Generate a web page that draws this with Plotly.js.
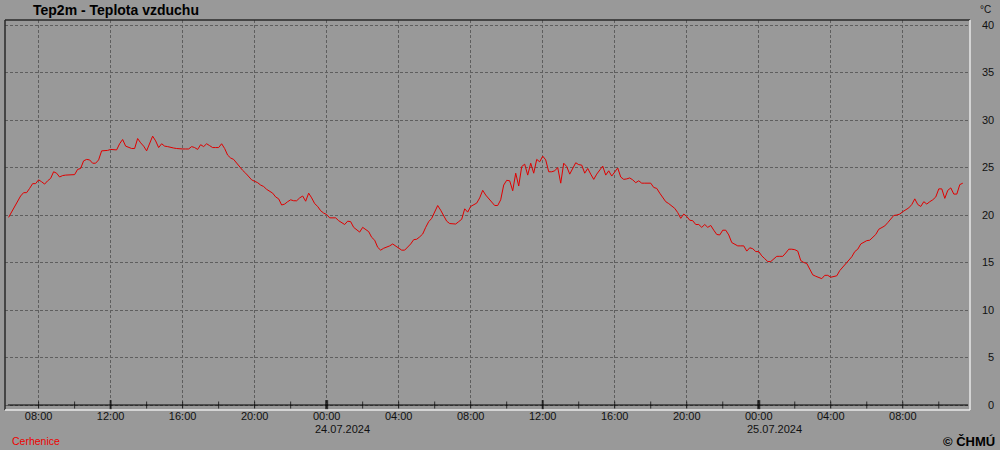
<!DOCTYPE html>
<html>
<head>
<meta charset="utf-8">
<script src="https://cdn.plot.ly/plotly-3.0.1.min.js"></script>
<style>
html,body{margin:0;padding:0;background:#999999;}
#chart{width:1000px;height:450px;}
</style>
</head>
<body>
<div id="chart"></div>
<script>
// ---- data (10-minute air temperature, Cerhenice) ----
const startTime = '2024-07-23T06:20:00Z';
const stepMinutes = 10;
const temperature = [
  19.75,20.3,20.8,21.4,22.0,22.35,22.35,22.8,23.3,23.3,23.7,23.5,
  23.25,23.6,23.85,24.55,24.4,24.0,24.15,24.2,24.2,24.25,24.25,24.8,
  24.9,25.7,25.85,25.8,25.45,25.45,25.8,26.75,26.75,26.8,26.9,26.85,
  26.85,27.5,27.95,27.25,27.1,27.0,27.0,28.05,27.6,27.25,26.75,27.6,
  28.3,27.8,27.1,27.5,27.25,27.2,27.1,27.05,27.0,26.95,26.95,26.95,
  26.95,27.2,27.1,26.9,27.4,27.2,27.5,27.3,27.1,27.1,27.1,27.5,
  27.0,26.3,26.0,25.85,25.45,25.1,24.7,24.4,24.0,23.7,23.55,23.4,
  23.15,23.0,22.7,22.45,22.3,21.9,21.7,21.05,21.15,21.4,21.6,21.5,
  21.5,21.8,22.0,21.45,22.3,21.8,21.2,20.9,20.45,20.2,20.05,19.7,
  19.7,19.7,19.4,19.2,19.0,19.35,19.3,18.7,18.4,18.2,18.7,18.5,
  18.25,17.65,17.35,16.6,16.3,16.5,16.6,16.75,16.95,16.75,16.5,16.3,
  16.3,16.6,16.95,17.4,17.45,17.7,18.0,18.7,19.3,19.65,20.3,21.0,
  20.5,19.9,19.35,19.1,19.05,19.05,19.3,19.55,20.65,20.3,20.9,21.1,
  21.25,21.8,22.6,22.1,21.75,21.4,21.0,21.0,21.6,23.15,23.65,23.6,
  22.55,24.4,23.05,25.1,25.35,24.2,25.45,24.4,25.85,25.6,26.2,25.8,
  24.55,24.55,24.65,25.0,23.35,25.45,25.1,24.3,24.9,25.5,25.3,25.25,
  24.4,24.9,24.3,23.75,24.3,24.7,25.15,24.2,24.65,24.1,24.5,24.95,
  24.0,23.75,23.8,23.9,23.7,23.4,23.6,23.35,23.35,23.35,23.35,22.9,
  22.8,22.3,21.85,21.4,21.2,20.95,20.7,20.25,19.65,20.1,19.85,19.45,
  19.4,19.0,19.0,18.7,19.0,18.7,18.9,18.4,17.95,17.9,18.4,18.4,
  17.9,17.1,16.9,16.75,16.75,16.75,16.2,16.55,16.45,16.15,16.15,15.7,
  15.4,15.1,15.1,15.35,15.65,15.65,15.65,16.0,16.4,16.4,16.35,16.2,
  15.2,15.0,14.9,14.3,13.7,13.55,13.45,13.3,13.65,13.65,13.45,13.5,
  13.6,14.15,14.5,14.85,15.2,15.6,16.15,16.4,16.95,17.1,17.3,17.35,
  17.7,17.95,18.5,18.7,18.85,19.2,19.6,19.95,20.0,20.1,20.35,20.55,
  20.75,21.1,21.7,21.1,20.9,21.4,21.15,21.4,21.6,21.9,22.75,22.75,
  21.75,22.6,22.85,22.2,22.2,23.2,23.35
];

const xRange = ['2024-07-23 06:08', '2024-07-25 11:44'];
const tickTimes = [
  '2024-07-23 08:00','2024-07-23 12:00','2024-07-23 16:00','2024-07-23 20:00',
  '2024-07-24 00:00','2024-07-24 04:00','2024-07-24 08:00','2024-07-24 12:00',
  '2024-07-24 16:00','2024-07-24 20:00','2024-07-25 00:00','2024-07-25 04:00',
  '2024-07-25 08:00'
];
const tickLabels = [
  '08:00','12:00','16:00','20:00','00:00','04:00','08:00','12:00',
  '16:00','20:00','00:00','04:00','08:00'
];
const dateTimes = ['2024-07-24 00:00', '2024-07-25 00:00'];
const dateLabels = ['24.07.2024', '25.07.2024'];
const minorTickTimes = [
  '2024-07-23 08:00','2024-07-23 10:00','2024-07-23 12:00','2024-07-23 14:00',
  '2024-07-23 16:00','2024-07-23 18:00','2024-07-23 20:00','2024-07-23 22:00',
  '2024-07-24 00:00','2024-07-24 02:00','2024-07-24 04:00','2024-07-24 06:00',
  '2024-07-24 08:00','2024-07-24 10:00','2024-07-24 12:00','2024-07-24 14:00',
  '2024-07-24 16:00','2024-07-24 18:00','2024-07-24 20:00','2024-07-24 22:00',
  '2024-07-25 00:00','2024-07-25 02:00','2024-07-25 04:00','2024-07-25 06:00',
  '2024-07-25 08:00','2024-07-25 10:00'
];
const yTicks = [0,5,10,15,20,25,30,35,40];
const yTickLabels = ['\u20070','\u20075','10','15','20','25','30','35','40'];
const yRange = [-0.526, 40.526];

// ---- build ----
const t0 = Date.parse(startTime);
const times = temperature.map((_, i) =>
  new Date(t0 + i * stepMinutes * 60000).toISOString().slice(0,16).replace('T',' '));

const tickHour = minorTickTimes.map(s => s.slice(11,13));
const tickW = tickHour.map(h => h === '00' ? 3 : (h === '12' ? 2 : 1));
const tickS = tickHour.map(h => h === '00' || h === '12' ? 7 : 5);

const FONT = 'Liberation Sans, Arial, sans-serif';

const traces = [
  {
    x: minorTickTimes, y: minorTickTimes.map(() => 0),
    type: 'scatter', mode: 'markers', hoverinfo: 'skip', cliponaxis: false,
    marker: {symbol: 'line-ns', size: tickS, color: '#000',
             line: {color: '#000', width: tickW}}
  },
  {
    x: times, y: temperature, type: 'scatter', mode: 'lines',
    line: {color: '#e00000', width: 1}, hoverinfo: 'skip'
  }
];

const dateAnnotations = dateTimes.map((t, i) => ({
  text: dateLabels[i], xref: 'x', yref: 'paper', x: t, y: 0,
  xshift: -14, yshift: -19, xanchor: 'left', yanchor: 'middle',
  showarrow: false, font: {family: FONT, size: 11, color: '#111'}
}));

const layout = {
  width: 1000, height: 450,
  margin: {l: 5, r: 30, t: 20, b: 40, pad: 0},
  paper_bgcolor: '#999999', plot_bgcolor: '#999999',
  showlegend: false,
  font: {family: FONT, size: 11, color: '#111'},
  xaxis: {
    type: 'date', range: xRange, tickmode: 'array',
    tickvals: tickTimes, ticktext: tickLabels,
    showgrid: true, gridcolor: '#5e5e5e', griddash: '3px,2px', gridwidth: 1,
    zeroline: false, showline: false, ticks: '', ticklabelstandoff: -2,
    tickfont: {family: FONT, size: 11, color: '#111'}, fixedrange: true
  },
  yaxis: {
    range: yRange, side: 'right', tickmode: 'array',
    tickvals: yTicks, ticktext: yTickLabels,
    showgrid: true, gridcolor: '#5e5e5e', griddash: '3px,2px', gridwidth: 1,
    zeroline: false, showline: false, ticks: '', ticklabelstandoff: 11,
    tickfont: {family: FONT, size: 11, color: '#111'}, fixedrange: true
  },
  shapes: [
    {type: 'line', xref: 'paper', yref: 'y', x0: 0.003, x1: 0.998, y0: 0, y1: 0,
     line: {color: '#000', width: 1}},
    {type: 'line', xref: 'paper', yref: 'paper', x0: 0, x1: 0, y0: 0, y1: 1,
     line: {color: '#2a2a2a', width: 1.5}},
    {type: 'line', xref: 'paper', yref: 'paper', x0: 0, x1: 1, y0: 1, y1: 1,
     line: {color: '#2a2a2a', width: 1.5}},
    {type: 'line', xref: 'paper', yref: 'paper', x0: 1, x1: 1, y0: 0, y1: 1,
     line: {color: '#e8e8e8', width: 1.5}},
    {type: 'line', xref: 'paper', yref: 'paper', x0: 0, x1: 1, y0: 0, y1: 0,
     line: {color: '#e8e8e8', width: 1.5}}
  ],
  annotations: [
    {text: '<b>Tep2m - Teplota vzduchu</b>', xref: 'paper', yref: 'paper',
     x: 26/965, y: 1, yshift: 10, xanchor: 'left', yanchor: 'middle',
     showarrow: false, font: {family: FONT, size: 14, color: '#000'}},
    {text: '°C', xref: 'paper', yref: 'paper', x: (993-5)/965, y: 1, yshift: 11,
     xanchor: 'right', yanchor: 'middle', showarrow: false,
     font: {family: FONT, size: 10, color: '#111'}},
    {text: 'Cerhenice', xref: 'paper', yref: 'paper', x: 5/965, y: 0, yshift: -31,
     xanchor: 'left', yanchor: 'middle', showarrow: false,
     font: {family: FONT, size: 10.5, color: '#ee0000'}},
    {text: '<b>© ČHMÚ</b>', xref: 'paper', yref: 'paper', x: (997-5)/965, y: 0, yshift: -31,
     xanchor: 'right', yanchor: 'middle', showarrow: false,
     font: {family: FONT, size: 13, color: '#000'}}
  ].concat(dateAnnotations)
};

Plotly.newPlot('chart', traces, layout, {staticPlot: true, displayModeBar: false});
</script>
</body>
</html>
